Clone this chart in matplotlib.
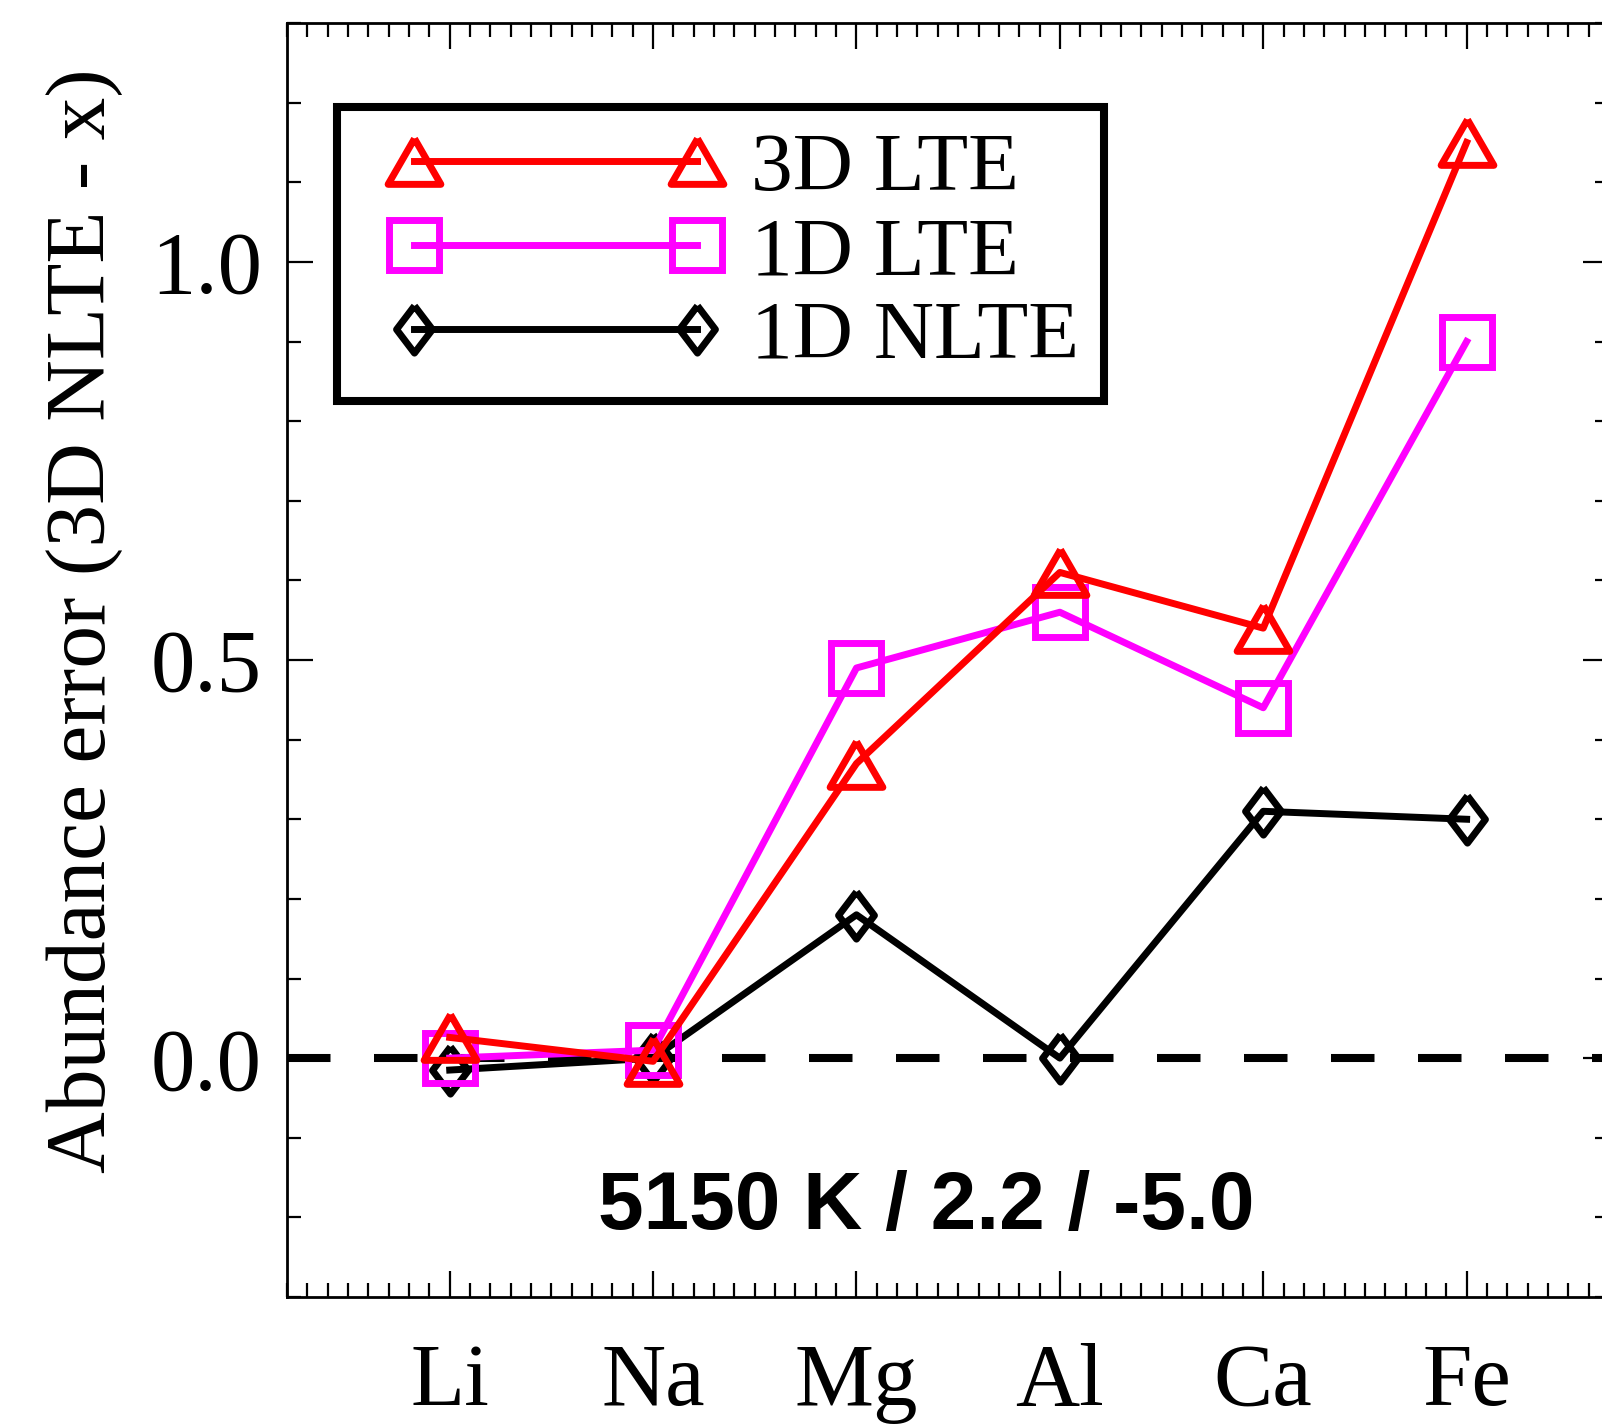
import numpy as np
import matplotlib
matplotlib.use("Agg")
from matplotlib import pyplot as plt
from matplotlib.legend_handler import HandlerLine2D
from matplotlib.ticker import MultipleLocator

elements = ["Li", "Na", "Mg", "Al", "Ca", "Fe"]
lte_3d = [0.026, -0.004, 0.37, 0.61, 0.54, 1.15]
lte_1d = [0.0, 0.01, 0.49, 0.56, 0.44, 0.90]
nlte_1d = [-0.015, 0.0, 0.18, 0.0, 0.31, 0.30]
label_text = "5150 K / 2.2 / -5.0"

x = np.arange(len(elements))

plt.rcParams['font.family'] = ['Liberation Serif', 'DejaVu Serif']

# IDL-like symbols: equilateral triangle and a squat diamond
tri = [(0, 0.866), (-1, -0.866), (1, -0.866), (0, 0.866)]
dia = [(0, 1), (0.76, 0), (0, -1), (-0.76, 0), (0, 1)]

fig = plt.figure(figsize=(16.02, 14.27), dpi=100)
ax = fig.add_axes([287/1602, 130/1427, 1322/1602, 1274/1427])

# zero line
ax.axhline(0.0, color='black', lw=5.8, dashes=(5.4, 5.4), zorder=1)

lw = 5
mew = 5
h_nlte, = ax.plot(x, nlte_1d, color='black', lw=lw, marker=dia, ms=34,
                  mfc='none', mec='black', mew=mew, label='1D NLTE', zorder=2)
h_1d, = ax.plot(x, lte_1d, color='#ff00ff', lw=lw, marker='s', ms=36,
                mfc='none', mec='#ff00ff', mew=mew, label='1D LTE', zorder=3)
h_3d, = ax.plot(x, lte_3d, color='red', lw=lw, marker=tri, ms=38,
                mfc='none', mec='red', mew=mew, label='3D LTE', zorder=4)

ax.text(2.343, -0.214, label_text, ha='center', va='baseline',
        fontsize=59, fontweight='bold', family=['Liberation Sans', 'DejaVu Sans'])

ax.set_xlim(-0.8, 5.7)
ax.set_ylim(-0.3, 1.3)
ax.set_xticks(x)
ax.set_xticklabels(elements)
ax.xaxis.set_minor_locator(MultipleLocator(0.1))
ax.set_yticks([0.0, 0.5, 1.0])
ax.set_yticklabels(["0.0", "0.5", "1.0"])
ax.yaxis.set_minor_locator(MultipleLocator(0.1))

ax.tick_params(which='both', direction='in', top=True, right=True, width=1.6,
               labelsize=64)
ax.tick_params(which='major', length=19)
ax.tick_params(which='minor', length=10)
ax.tick_params(axis='x', which='major', pad=33)
ax.tick_params(axis='y', which='major', pad=18)
for sp in ax.spines.values():
    sp.set_linewidth(2)

ax.set_ylabel("Abundance error (3D NLTE - x)", fontsize=61.5)
ax.yaxis.set_label_coords(-0.124, 0.531)

hm = HandlerLine2D(numpoints=2, marker_pad=0.62)
leg = ax.legend(handles=[h_3d, h_1d, h_nlte], loc='upper left',
                bbox_to_anchor=(50/1322, 1 - 84/1274), borderaxespad=0,
                fontsize=60, handlelength=4.64, handletextpad=0.03,
                labelspacing=0.09, borderpad=0.3, fancybox=False,
                framealpha=1, edgecolor='black',
                handler_map={h_3d: hm, h_1d: hm, h_nlte: hm})
leg.get_frame().set_linewidth(5.8)

fig.savefig('out.png', dpi=100)
